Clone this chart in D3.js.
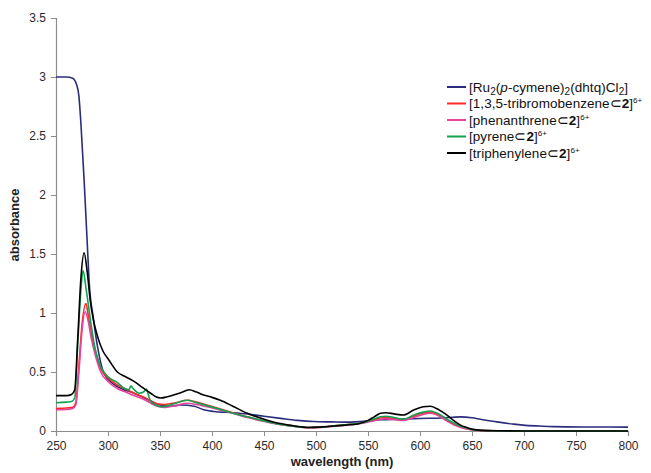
<!DOCTYPE html>
<html>
<head>
<meta charset="utf-8">
<script src="https://cdn.jsdelivr.net/npm/d3@7"></script>
<style>
  body { margin: 0; background: #fff; }
  svg { font-family: "Liberation Sans", Arial, sans-serif; }
  .tick text { font-size: 12px; fill: #2a2a2a; }
  .axis path, .axis line { stroke: #8c8c8c; }
</style>
</head>
<body>
<div id="chart"></div>
<script>
// chart size and margins
const WIDTH = 651;
const HEIGHT = 473;
const MARGIN = { left: 56, right: 23, top: 18, bottom: 42 };
const INNER_W = WIDTH - MARGIN.left - MARGIN.right;
const INNER_H = HEIGHT - MARGIN.top - MARGIN.bottom;

// axis ticks
const xTicks = [250, 300, 350, 400, 450, 500, 550, 600, 650, 700, 750, 800];
const yTicks = [0, 0.5, 1, 1.5, 2, 2.5, 3, 3.5];

// spectra, [wavelength nm, absorbance]
const ruComplex = [[250,3.0],[260,3.0],[266,2.99],[270,2.93],[272,2.84],[274,2.6],[277,2.13],[280,1.6],[282,1.25],[286,0.95],[290,0.71],[296,0.49],[305,0.4],[315,0.35],[322,0.33],[330,0.3],[340,0.26],[350,0.22],[360,0.21],[370,0.22],[383,0.21],[392,0.18],[402,0.165],[420,0.155],[434,0.144],[450,0.125],[466,0.107],[482,0.09],[498,0.08],[515,0.077],[530,0.075],[550,0.085],[562,0.095],[580,0.1],[600,0.106],[620,0.11],[639,0.12],[650,0.112],[658,0.1],[674,0.077],[690,0.058],[699,0.05],[715,0.042],[728,0.037],[760,0.034],[800,0.033]];

const tribromo = [[250,0.19],[260,0.195],[266,0.2],[269,0.24],[272,0.55],[275,0.9],[278.8,1.08],[281,0.98],[284,0.82],[287,0.71],[293,0.53],[300,0.45],[309,0.39],[317,0.355],[325,0.32],[335,0.285],[347.6,0.23],[355,0.225],[365,0.24],[376,0.26],[385,0.245],[395,0.22],[405,0.195],[420,0.155],[434,0.12],[448,0.09],[463,0.062],[478,0.042],[492,0.03],[505,0.033],[514,0.04],[530,0.055],[545,0.07],[555,0.095],[562,0.11],[567,0.115],[575,0.105],[584,0.095],[594,0.125],[603,0.15],[610,0.158],[618,0.135],[626,0.09],[633,0.055],[639,0.035],[645,0.02],[651,0.01],[665,0.003],[690,0],[800,0]];

const phenanthrene = [[250,0.18],[260,0.182],[266,0.19],[269,0.22],[272,0.5],[275,0.85],[278,1.01],[281,0.93],[284,0.78],[287,0.67],[293,0.5],[300,0.42],[309,0.36],[317,0.33],[325,0.3],[335,0.265],[347.6,0.21],[355,0.2],[365,0.215],[376,0.235],[385,0.225],[395,0.205],[405,0.185],[420,0.15],[434,0.115],[448,0.085],[463,0.058],[478,0.04],[492,0.028],[505,0.03],[514,0.037],[530,0.05],[545,0.065],[555,0.085],[562,0.1],[567,0.105],[575,0.097],[584,0.09],[594,0.115],[603,0.14],[610,0.15],[618,0.128],[626,0.085],[633,0.05],[639,0.03],[645,0.018],[651,0.008],[665,0.002],[690,0],[800,0]];

const pyrene = [[250,0.24],[260,0.245],[265,0.25],[268,0.28],[271,0.75],[274,1.2],[276,1.36],[279,1.2],[283.6,0.91],[288,0.68],[293,0.545],[300,0.46],[309,0.41],[316,0.36],[320,0.35],[322,0.38],[325,0.35],[330,0.32],[334,0.33],[337,0.355],[339,0.3],[341,0.25],[346,0.22],[351,0.205],[360,0.22],[370,0.25],[376,0.26],[385,0.24],[395,0.215],[405,0.19],[420,0.15],[434,0.12],[448,0.09],[463,0.06],[478,0.04],[492,0.03],[505,0.033],[514,0.04],[530,0.055],[545,0.07],[555,0.1],[562,0.12],[567,0.125],[575,0.115],[584,0.1],[594,0.135],[603,0.16],[610,0.17],[618,0.145],[626,0.1],[633,0.065],[639,0.04],[645,0.025],[651,0.01],[665,0.003],[690,0],[800,0]];

const triphenylene = [[250,0.3],[260,0.3],[265,0.31],[268,0.35],[271,0.8],[274,1.3],[277,1.51],[280,1.35],[283,1.1],[286,0.94],[290,0.8],[295,0.68],[301,0.6],[309,0.5],[317,0.46],[325,0.42],[333,0.37],[341,0.32],[346,0.29],[351,0.28],[357,0.29],[363,0.305],[370,0.325],[378,0.35],[385,0.33],[392,0.305],[400,0.285],[408,0.26],[420,0.21],[434,0.15],[448,0.105],[463,0.067],[478,0.045],[492,0.03],[503,0.033],[514,0.04],[528,0.05],[540,0.06],[550,0.09],[556,0.12],[562,0.15],[567,0.155],[575,0.145],[584,0.135],[594,0.178],[603,0.205],[610,0.21],[618,0.18],[626,0.135],[633,0.085],[639,0.05],[645,0.03],[651,0.014],[660,0.005],[670,0.002],[700,0],[800,0]];

const seriesData = [ruComplex, tribromo, phenanthrene, pyrene, triphenylene];
const seriesColors = ["#2b2d7c", "#ff2a2a", "#e6449c", "#13a150", "#000000"];

// legend text pieces: [text, style] where style is "", "b" bold, "i" italic, "sub", "sup"
const legendLabels = [
  [["[Ru", ""], ["2", "sub"], ["(", ""], ["p", "i"], ["-cymene)", ""], ["2", "sub"], ["(dhtq)Cl", ""], ["2", "sub"], ["]", ""]],
  [["[1,3,5-tribromobenzene\u2282", ""], ["2", "b"], ["]", ""], ["6+", "sup"]],
  [["[phenanthrene\u2282", ""], ["2", "b"], ["]", ""], ["6+", "sup"]],
  [["[pyrene\u2282", ""], ["2", "b"], ["]", ""], ["6+", "sup"]],
  [["[triphenylene\u2282", ""], ["2", "b"], ["]", ""], ["6+", "sup"]]
];

const svg = d3.select("#chart").append("svg")
  .attr("width", WIDTH)
  .attr("height", HEIGHT);

const g = svg.append("g")
  .attr("transform", "translate(" + MARGIN.left + "," + MARGIN.top + ")");

const x = d3.scaleLinear().domain([250, 800]).range([0, INNER_W]);
const y = d3.scaleLinear().domain([0, 3.5]).range([INNER_H, 0]);

// axes
g.append("g").attr("class", "axis")
  .attr("transform", `translate(0,${INNER_H})`)
  .call(d3.axisBottom(x).tickValues(xTicks).tickSize(5).tickPadding(5).tickFormat(d3.format("d")));

g.append("g").attr("class", "axis")
  .call(d3.axisLeft(y).tickValues(yTicks).tickSize(5).tickPadding(5).tickFormat(d => d));

g.selectAll(".axis .domain").attr("stroke-width", 1.2);

// lines
const line = d3.line()
  .x(d => x(d[0]))
  .y(d => y(d[1]))
  .curve(d3.curveMonotoneX);

g.selectAll(".spectrum")
  .data(seriesData)
  .join("path")
  .attr("class", "spectrum")
  .attr("fill", "none")
  .attr("stroke", (d, i) => seriesColors[i])
  .attr("stroke-width", 1.6)
  .attr("stroke-linejoin", "round")
  .attr("d", line);

// axis titles
svg.append("text")
  .attr("x", MARGIN.left + INNER_W / 2)
  .attr("y", 466)
  .attr("text-anchor", "middle")
  .attr("font-size", 13)
  .attr("font-weight", "bold")
  .attr("fill", "#222")
  .text("wavelength (nm)");

svg.append("text")
  .attr("transform", "translate(19,225) rotate(-90)")
  .attr("text-anchor", "middle")
  .attr("font-size", 13)
  .attr("font-weight", "bold")
  .attr("fill", "#222")
  .text("absorbance");

// legend
const legend = svg.append("g").attr("transform", "translate(447,87)");
const rows = legend.selectAll("g")
  .data(legendLabels)
  .join("g")
  .attr("transform", (d, i) => `translate(0,${i * 16.5})`);

rows.append("line")
  .attr("x1", 0).attr("x2", 19)
  .attr("stroke", (d, i) => seriesColors[i])
  .attr("stroke-width", 2);

rows.append("text")
  .attr("x", 22)
  .attr("dy", "0.36em")
  .attr("font-size", 13.5)
  .attr("letter-spacing", 0.05)
  .attr("fill", "#111")
  .each(function(parts) {
    const t = d3.select(this);
    parts.forEach(p => {
      const s = t.append("tspan").text(p[0]);
      if (p[1] === "sub") s.attr("font-size", 10).attr("baseline-shift", "-25%");
      if (p[1] === "sup") s.attr("font-size", 8).attr("baseline-shift", "60%");
      if (p[1] === "i") s.attr("font-style", "italic");
      if (p[1] === "b") s.attr("font-weight", "bold");
    });
  });
</script>
</body>
</html>
